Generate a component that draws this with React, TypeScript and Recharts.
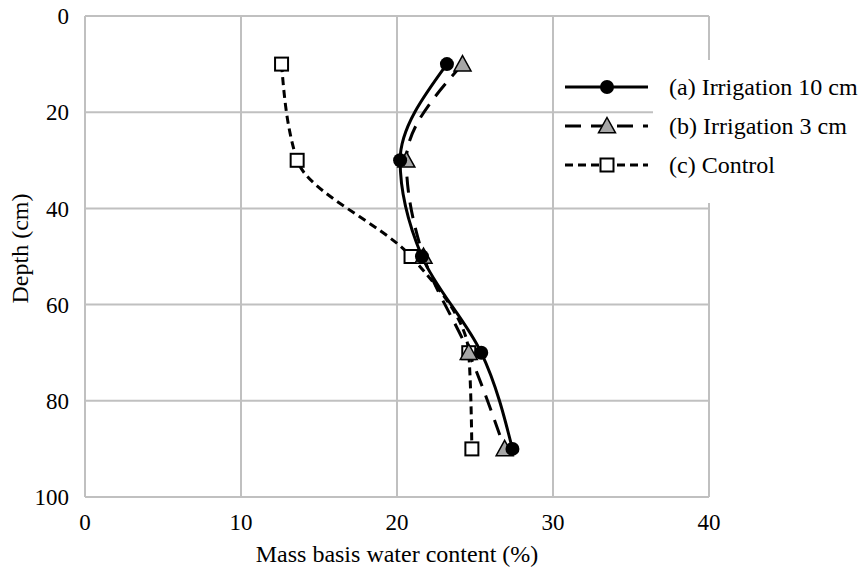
import { LineChart, Line, XAxis, YAxis, CartesianGrid, Label } from "recharts";

// depth of each sampling point (cm)
const depths = [10, 30, 50, 70, 90];
// mass basis water content (%) per treatment
const irrigation10 = [23.2, 20.2, 21.6, 25.4, 27.4];
const irrigation3 = [24.2, 20.6, 21.7, 24.6, 26.9];
const control = [12.6, 13.6, 20.9, 24.6, 24.8];

const xTicks = [0, 10, 20, 30, 40];
const yTicks = [0, 20, 40, 60, 80, 100];

const seriesNames = {
  a: "(a) Irrigation 10 cm",
  b: "(b) Irrigation 3 cm",
  c: "(c) Control",
};

const data = depths.map((depth, i) => ({
  depth,
  a: irrigation10[i],
  b: irrigation3[i],
  c: control[i],
}));

const FONT = '"Liberation Serif", Tinos, "Times New Roman"';
const GRID = "#c0c0c0";

function CircleDot(props: any) {
  const { cx, cy } = props;
  if (cx == null || cy == null) return null;
  return <circle cx={cx} cy={cy} r={7} fill="#000" />;
}

function TriangleDot(props: any) {
  const { cx, cy } = props;
  if (cx == null || cy == null) return null;
  const s = 8.5;
  return (
    <path
      d={`M${cx},${cy - s} L${cx + s},${cy + s * 0.8} L${cx - s},${cy + s * 0.8} Z`}
      fill="#a6a6a6"
      stroke="#000"
      strokeWidth={1.5}
    />
  );
}

function SquareDot(props: any) {
  const { cx, cy } = props;
  if (cx == null || cy == null) return null;
  return <rect x={cx - 6.5} y={cy - 6.5} width={13} height={13} fill="#fff" stroke="#000" strokeWidth={2} />;
}

// legend drawn as an overlay, the white box hides part of the grid like the original
function LegendBox() {
  const rows = [
    { key: "a", dash: undefined, marker: <CircleDot cx={42} cy={12} /> },
    { key: "b", dash: "16 10", marker: <TriangleDot cx={42} cy={12} /> },
    { key: "c", dash: "8 5", marker: <SquareDot cx={42} cy={12} /> },
  ];
  return (
    <div style={{ position: "absolute", left: 560, top: 60, width: 301, height: 143 }}>
      <div style={{ position: "absolute", left: 93, top: 0, width: 208, height: 143, background: "#fff" }} />
      {rows.map((r, i) => (
        <div
          key={r.key}
          style={{ position: "absolute", left: 5, top: 15 + i * 39, height: 24, display: "flex", alignItems: "center" }}
        >
          <svg width={84} height={24} style={{ overflow: "visible" }}>
            <line x1={0} y1={12} x2={83} y2={12} stroke="#000" strokeWidth={3} strokeDasharray={r.dash} />
            {r.marker}
          </svg>
          <span className="serif" style={{ marginLeft: 20, fontFamily: FONT, fontSize: 24, color: "#000", whiteSpace: "nowrap" }}>
            {seriesNames[r.key as "a" | "b" | "c"]}
          </span>
        </div>
      ))}
    </div>
  );
}

export default function App() {
  return (
    <div style={{ position: "absolute", left: 0, top: 0, width: 861, height: 572, background: "#fff", fontFamily: FONT }}>
      <style>{`.serif, .recharts-wrapper, .recharts-wrapper text { font-family: "Liberation Serif", Tinos, "Times New Roman" !important; }`}</style>
      <LineChart
        width={861}
        height={572}
        data={data}
        layout="vertical"
        margin={{ top: 16, right: 152, left: 0, bottom: 0 }}
        style={{ fontFamily: FONT }}
      >
        <CartesianGrid stroke={GRID} strokeWidth={2} />
        <XAxis
          type="number"
          dataKey="a"
          domain={[0, 40]}
          ticks={xTicks}
          height={75}
          tickLine={false}
          tickMargin={11}
          axisLine={{ stroke: GRID, strokeWidth: 2 }}
          tick={{ fontFamily: FONT, fontSize: 23, fill: "#000" }}
        >
          <Label
            value="Mass basis water content (%)"
            position="insideBottom"
            offset={10}
            style={{ fontFamily: FONT, fontSize: 24, fill: "#000" }}
          />
        </XAxis>
        <YAxis
          type="number"
          dataKey="depth"
          domain={[0, 100]}
          ticks={yTicks}
          width={85}
          tickLine={false}
          tickMargin={10}
          axisLine={{ stroke: GRID, strokeWidth: 2 }}
          tick={{ fontFamily: FONT, fontSize: 23, fill: "#000" }}
        >
          <Label
            content={(props: any) => {
              const vb = props.viewBox || { y: 16, height: 481 };
              const cy = vb.y + vb.height / 2 - 8;
              return (
                <text
                  x={20}
                  y={cy}
                  transform={`rotate(-90 20 ${cy})`}
                  textAnchor="middle"
                  dominantBaseline="central"
                  fontFamily={FONT}
                  fontSize={24}
                  fill="#000"
                >
                  Depth (cm)
                </text>
              );
            }}
          />
        </YAxis>
        <Line
          dataKey="c"
          name={seriesNames.c}
          type="monotone"
          stroke="#000"
          strokeWidth={3}
          strokeDasharray="8 5"
          dot={<SquareDot />}
          activeDot={false}
          isAnimationActive={false}
        />
        <Line
          dataKey="b"
          name={seriesNames.b}
          type="monotone"
          stroke="#000"
          strokeWidth={3}
          strokeDasharray="16 10"
          dot={<TriangleDot />}
          activeDot={false}
          isAnimationActive={false}
        />
        <Line
          dataKey="a"
          name={seriesNames.a}
          type="monotone"
          stroke="#000"
          strokeWidth={3}
          dot={<CircleDot />}
          activeDot={false}
          isAnimationActive={false}
        />
      </LineChart>
      <LegendBox />
    </div>
  );
}
